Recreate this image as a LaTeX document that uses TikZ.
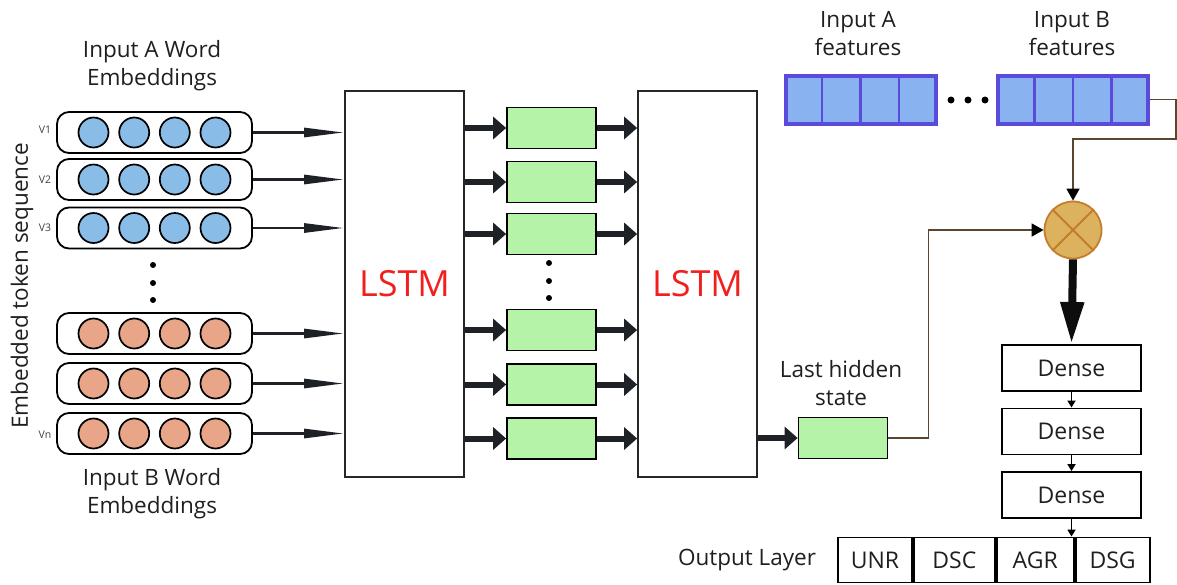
\documentclass[tikz,border=0pt]{standalone}
\usepackage{fontspec}
\setmainfont{Open Sans}
\usetikzlibrary{arrows.meta,calc}
\definecolor{bluec}{HTML}{8ABCE8}
\definecolor{salmon}{HTML}{E9A587}
\definecolor{greenc}{HTML}{B5F3A9}
\definecolor{featfill}{HTML}{88B3F0}
\definecolor{featline}{HTML}{5B4BDB}
\definecolor{mulfill}{HTML}{DDB25F}
\definecolor{mulline}{HTML}{C47D2A}
\definecolor{brownc}{HTML}{5A4530}
\definecolor{darkc}{HTML}{1E2226}
\definecolor{lstmred}{HTML}{F21F1F}
\tikzset{
  lbl/.style={font=\fontsize{22.5}{28}\selectfont, align=center, text=black!88},
  pill/.style={draw=black, line width=1.8pt, rounded corners=12pt, minimum width=195pt, minimum height=41pt, fill=white},
  tok/.style={circle, draw=black, line width=1.7pt, minimum size=30pt, inner sep=0pt},
  vlab/.style={font=\fontsize{10.5}{12}\selectfont, text=black!75},
  lstm/.style={draw=black!85, line width=1.7pt, minimum width=119pt, minimum height=386pt, text=lstmred, font=\fontsize{36}{40}\selectfont, inner sep=0pt},
  gbox/.style={draw=black, line width=1.7pt, fill=greenc, minimum width=89pt, minimum height=41pt, inner sep=0pt},
  inarr/.style={line width=2.8pt, darkc, -{Stealth[length=40pt, width=9pt, inset=0pt]}},
  midarr/.style={line width=6pt, darkc, -{Triangle[length=13pt, width=22pt]}},
  conn/.style={line width=1.6pt, brownc, -{Triangle[length=12pt, width=13pt, color=black]}},
  bigarr/.style={line width=8pt, black!95, -{Triangle[length=42pt, width=22pt]}},
  dense/.style={draw=black, line width=1.9pt, minimum width=139pt, minimum height=46pt, font=\fontsize{23}{26}\selectfont, inner sep=0pt, text=black!88},
  smallarr/.style={line width=1.9pt, black, -{Triangle[length=7pt, width=8pt]}},
  feat/.style={draw=featline, line width=4pt, fill=featfill, minimum width=150pt, minimum height=48pt, inner sep=0pt},
  outc/.style={draw=black, line width=1.9pt, minimum height=45pt, font=\fontsize{23}{26}\selectfont, inner sep=0pt, anchor=west, text=black!88},
  bdot/.style={circle, fill=black, inner sep=0pt, minimum size=6pt}
}
\begin{document}
\begin{tikzpicture}[x=1pt,y=-1pt]
\useasboundingbox (0,0) rectangle (1177,584);
% left labels
\node[lbl] (inA) at (152,66) {Input A Word\\Embeddings};
\node[lbl] (inB) at (152,494) {Input B Word\\Embeddings};
\node[lbl, rotate=90] (emb) at (22,286) {Embedded token sequence};
% pills
\foreach \n/\y/\c in {1/132.5/bluec,2/179.5/bluec,3/228/bluec,4/333.5/salmon,5/383.5/salmon,6/433.5/salmon}{
  \node[pill] (r\n) at (154.5,\y) {};
  \foreach \k/\dx in {1/-61,2/-20.3,3/20.3,4/61}{
    \node[tok, fill=\c] (t\n\k) at ($(r\n.center)+(\dx,0)$) {};
  }
}
\node[vlab] (v1) at (45,130) {V1};
\node[vlab] (v2) at (45,180) {V2};
\node[vlab] (v3) at (45,228) {V3};
\node[vlab] (vn) at (45,435) {Vn};
\node[bdot] (ld1) at (153,265) {};
\node[bdot] (ld2) at (153,283) {};
\node[bdot] (ld3) at (153,300) {};
% LSTMs
\node[lstm] (lstmA) at (404.5,284) {LSTM};
\node[lstm] (lstmB) at (697.5,284) {LSTM};
\foreach \n in {1,...,6}{
  \draw[inarr] (r\n.east) -- (r\n.east -| lstmA.west);
}
% green boxes
\foreach \n/\y in {1/128,2/182,3/234,4/330,5/384.5,6/438.5}{
  \node[gbox] (g\n) at (551.5,\y) {};
  \draw[midarr] (g\n.west -| lstmA.east) -- (g\n.west);
  \draw[midarr] (g\n.east) -- (g\n.east -| lstmB.west);
}
\node[bdot] (md1) at (549,263) {};
\node[bdot] (md2) at (549,281) {};
\node[bdot] (md3) at (549,298) {};
% last hidden state
\node[gbox] (hid) at (843,438) {};
\node[lbl] (hidl) at (841,383) {Last hidden\\state};
\draw[midarr] (hid.west -| lstmB.east) -- (hid.west);
% features
\node[lbl] (fAl) at (858,34) {Input A\\features};
\node[lbl] (fBl) at (1072,34) {Input B\\features};
\node[feat] (fA) at (860.5,99.5) {};
\node[feat] (fB) at (1073,99.5) {};
\foreach \f in {fA,fB}{
  \foreach \i in {1,2,3}{
    \draw[featline, line width=2.5pt] ($(\f.north west)!\i/4!(\f.north east)$) -- ($(\f.south west)!\i/4!(\f.south east)$);
  }
}
\node[bdot, minimum size=7pt] (fd1) at (951,100) {};
\node[bdot, minimum size=7pt] (fd2) at (968,100) {};
\node[bdot, minimum size=7pt] (fd3) at (985,100) {};
% multiply node
\node[circle, draw=mulline, fill=mulfill, line width=1.8pt, minimum size=57pt, inner sep=0pt] (mul) at (1073,230) {};
\draw[mulline, line width=1.8pt] (mul.north west) -- (mul.south east);
\draw[mulline, line width=1.8pt] (mul.north east) -- (mul.south west);
\coordinate (bendB) at (1176,139);
\draw[conn] (fB.east) -| (bendB) -| (mul.north);
\coordinate (bendH) at ($(mul.west)+(-115,0)$);
\draw[conn] (hid.east) -| (bendH) -- (mul.west);
% dense stack
\node[dense] (d1) at (1071.5,368) {Dense};
\node[dense] (d2) at (1071.5,431.5) {Dense};
\node[dense] (d3) at (1071.5,495) {Dense};
\draw[bigarr] (mul.south) -- (d1.north);
\draw[smallarr] (d1.south) -- (d2.north);
\draw[smallarr] (d2.south) -- (d3.north);
% output layer
\node[outc, minimum width=74pt] (o1) at (837,560) {UNR};
\node[outc, minimum width=81pt] (o2) at (o1.east) {DSC};
\node[outc, minimum width=77pt] (o3) at (o2.east) {AGR};
\node[outc, minimum width=74pt] (o4) at (o3.east) {DSG};
\node[lbl] (outl) at (747,560) {Output Layer};
\draw[smallarr] (d3.south) -- (d3.south |- o4.north);
\end{tikzpicture}
\end{document}
